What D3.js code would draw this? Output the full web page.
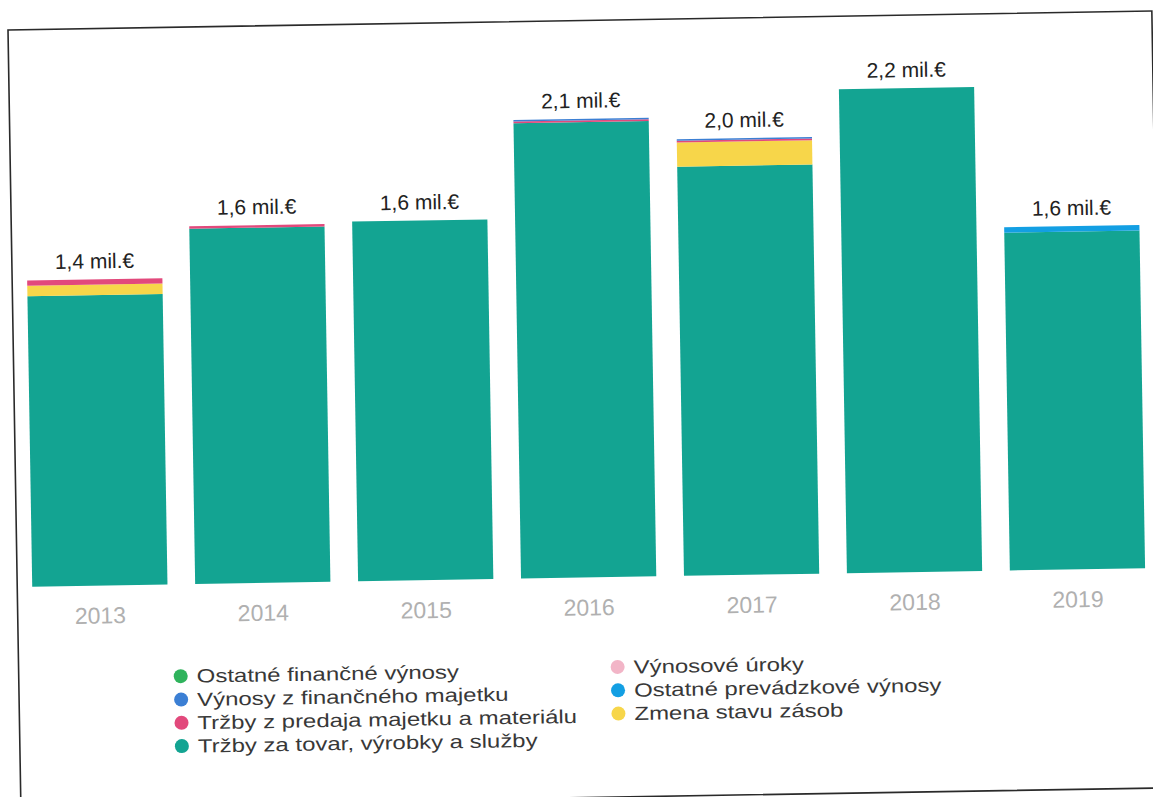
<!DOCTYPE html>
<html lang="sk">
<head>
  <meta charset="UTF-8">
  <script src="https://cdn.jsdelivr.net/npm/d3@7"></script>
  <title>Výnosy</title>
  <style>
    body { margin: 0; background: #fff; }
    text { font-family: "Liberation Sans", Arial, sans-serif; }
  </style>
</head>
<body>
  <script>
    const years = ['2013', '2014', '2015', '2016', '2017', '2018', '2019']
    const totalLabels = ['1,4 mil.€', '1,6 mil.€', '1,6 mil.€', '2,1 mil.€', '2,0 mil.€', '2,2 mil.€', '1,6 mil.€']

    // mil. €, bottom of the stack first
    const trzbyTovar = [1.32, 1.615, 1.635, 2.07, 1.86, 2.2, 1.535]
    const zmenaZasob = [0.048, 0, 0, 0, 0.11, 0, 0]
    const ostatnePrevadzkove = [0, 0, 0, 0, 0, 0, 0.025]
    const trzbyPredaj = [0.024, 0.011, 0, 0.008, 0.008, 0, 0]
    const vynosoveUroky = [0, 0, 0, 0, 0, 0, 0]
    const vynosyFinMajetok = [0, 0, 0, 0.007, 0.007, 0, 0]
    const ostatneFinancne = [0, 0, 0, 0, 0, 0, 0]

    const series = [
      { key: 'trzbyTovar', name: 'Tržby za tovar, výrobky a služby', color: '#13a492', values: trzbyTovar },
      { key: 'zmenaZasob', name: 'Zmena stavu zásob', color: '#f7d64a', values: zmenaZasob },
      { key: 'ostatnePrevadzkove', name: 'Ostatné prevádzkové výnosy', color: '#139fe3', values: ostatnePrevadzkove },
      { key: 'trzbyPredaj', name: 'Tržby z predaja majetku a materiálu', color: '#e2497c', values: trzbyPredaj },
      { key: 'vynosoveUroky', name: 'Výnosové úroky', color: '#f2b5c7', values: vynosoveUroky },
      { key: 'vynosyFinMajetok', name: 'Výnosy z finančného majetku', color: '#3b7fd4', values: vynosyFinMajetok },
      { key: 'ostatneFinancne', name: 'Ostatné finančné výnosy', color: '#2fb35c', values: ostatneFinancne }
    ]
    // legend layout as in the report: two columns
    const legendCol1 = ['ostatneFinancne', 'vynosyFinMajetok', 'trzbyPredaj', 'trzbyTovar']
    const legendCol2 = ['vynosoveUroky', 'ostatnePrevadzkove', 'zmenaZasob']

    const table = years.map((y, i) => {
      const row = { year: y }
      series.forEach(s => row[s.key] = s.values[i])
      return row
    })
    const stacked = d3.stack().keys(series.map(s => s.key))(table)
    const colorOf = d3.scaleOrdinal().domain(series.map(s => s.key)).range(series.map(s => s.color))
    const nameOf = k => series.find(s => s.key === k).name

    const svg = d3.select('body').append('svg')
      .attr('width', 1153)
      .attr('height', 797)

    // the scanned page is slightly tilted
    const g = svg.append('g').attr('transform', 'translate(8,30) rotate(-0.95)')

    g.append('rect')
      .attr('x', 0).attr('y', 0)
      .attr('width', 1144).attr('height', 777)
      .attr('fill', 'none')
      .attr('stroke', '#2a2a2a')
      .attr('stroke-width', 1.6)

    const x = d3.scaleBand().domain(years).range([15, 1128]).paddingInner(0.17).paddingOuter(0)
    const y = d3.scaleLinear().domain([0, 2.2]).range([557, 73])

    g.selectAll('g.layer')
      .data(stacked).enter()
      .append('g').attr('class', 'layer')
      .attr('fill', d => colorOf(d.key))
      .selectAll('rect')
      .data(d => d).enter()
      .append('rect')
      .attr('x', d => x(d.data.year))
      .attr('width', x.bandwidth())
      .attr('y', d => y(d[1]))
      .attr('height', d => y(d[0]) - y(d[1]))

    const topLayer = stacked[stacked.length - 1]
    g.selectAll('text.total')
      .data(years).enter()
      .append('text').attr('class', 'total')
      .attr('x', d => x(d) + x.bandwidth() / 2)
      .attr('y', (d, i) => y(topLayer[i][1]) - 11)
      .attr('text-anchor', 'middle')
      .attr('font-size', 21)
      .attr('fill', '#222')
      .text((d, i) => totalLabels[i])

    // x axis labels only, no line
    const xAxis = g.append('g')
      .attr('transform', 'translate(0,557)')
      .call(d3.axisBottom(x).tickSize(0).tickPadding(38))
    xAxis.select('.domain').remove()
    xAxis.selectAll('text')
      .attr('font-size', 23)
      .attr('font-family', '"Liberation Sans", Arial, sans-serif')
      .attr('fill', '#b0b0b0')
      .attr('dy', 0)

    const legend = g.append('g')
    const drawCol = (keys, lx, ly) => {
      const item = legend.append('g').selectAll('g')
        .data(keys).enter()
        .append('g')
        .attr('transform', (d, i) => `translate(${lx},${ly + i * 23.3})`)
      item.append('circle')
        .attr('r', 7)
        .attr('fill', d => colorOf(d))
      // the scan is a little wider than tall, so the text is stretched
      item.append('text')
        .attr('transform', 'translate(16,0) scale(1.26,1)')
        .attr('dy', '0.35em')
        .attr('font-size', 19)
        .attr('fill', '#383838')
        .text(d => nameOf(d))
    }
    drawCol(legendCol1, 162, 649)
    drawCol(legendCol2, 599, 647)
  </script>
</body>
</html>
